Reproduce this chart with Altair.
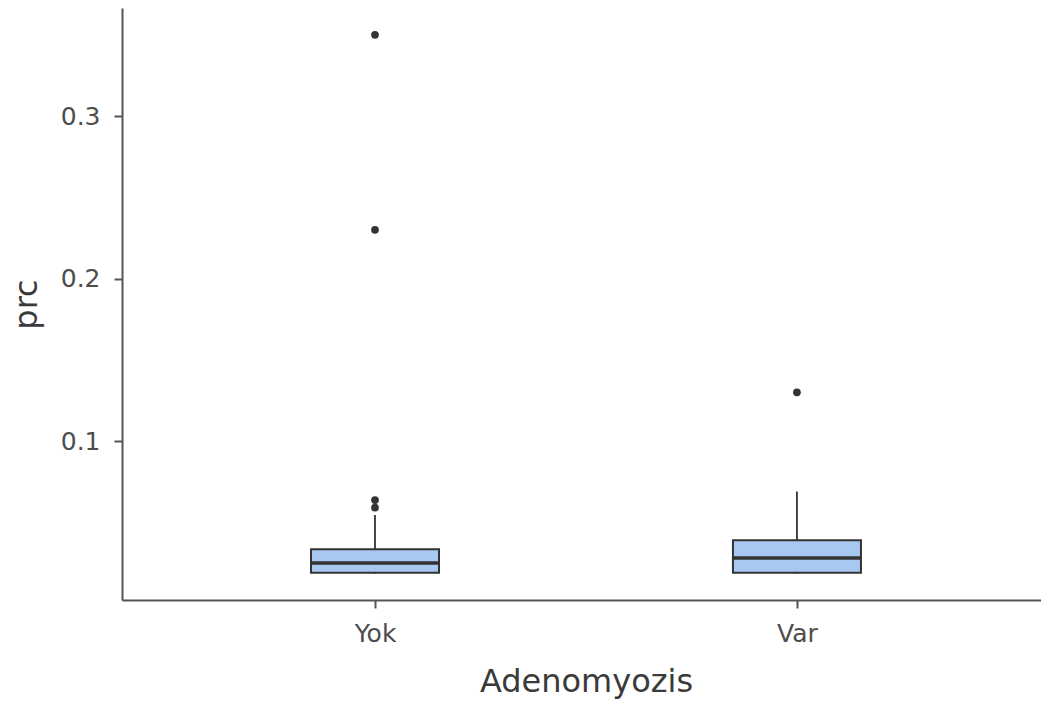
import altair as alt
import pandas as pd

categories = ["Yok", "Var"]
q1 = [0.0190, 0.0190]
median = [0.0250, 0.0280]
q3 = [0.0335, 0.0390]
whisker_low = [0.0185, 0.0185]
whisker_high = [0.0545, 0.0690]

outlier_group = ["Yok", "Yok", "Yok", "Yok", "Var"]
outlier_value = [0.350, 0.230, 0.0637, 0.0590, 0.130]

box_df = pd.DataFrame({
    "Adenomyozis": categories,
    "q1": q1,
    "median": median,
    "q3": q3,
    "lo": whisker_low,
    "hi": whisker_high,
})
out_df = pd.DataFrame({"Adenomyozis": outlier_group, "prc": outlier_value})

FONT = "DejaVu Sans"
xscale = alt.Scale(type="point", padding=0.589, align=0.509)
yscale = alt.Scale(domain=[0.0022, 0.3665], nice=False, zero=False)

x_enc = alt.X(
    "Adenomyozis:N",
    sort=categories,
    scale=xscale,
    axis=alt.Axis(title="Adenomyozis", labelAngle=0, titleX=464),
)
y_axis = alt.Axis(title="prc", values=[0.1, 0.2, 0.3], format=".1f")

base = alt.Chart(box_df)

whisker = base.mark_rule(color="#333333", strokeWidth=1.8).encode(
    x=x_enc,
    y=alt.Y("lo:Q", scale=yscale, axis=y_axis),
    y2="hi:Q",
)
box = base.mark_bar(
    size=128, fill="#a8c8f2", stroke="#333333", strokeWidth=2
).encode(
    x=x_enc,
    y=alt.Y("q1:Q", scale=yscale, axis=y_axis),
    y2="q3:Q",
)
med = base.mark_tick(size=128, thickness=3.5, color="#333333", opacity=1).encode(
    x=x_enc,
    y=alt.Y("median:Q", scale=yscale, axis=y_axis),
)
pts = alt.Chart(out_df).mark_circle(size=60, color="#333333", opacity=1).encode(
    x=x_enc,
    y=alt.Y("prc:Q", scale=yscale, axis=y_axis),
)

chart = (
    alt.layer(whisker, box, med, pts)
    .properties(
        width=919,
        height=592,
        autosize=alt.AutoSizeParams(type="none"),
        padding={"left": 114, "top": 0, "right": 0, "bottom": 100},
    )
    .configure_view(stroke=None)
    .configure_axis(
        grid=False,
        domainColor="#555555",
        domainWidth=2,
        tickColor="#555555",
        tickWidth=2,
        tickSize=8,
        labelFont=FONT,
        titleFont=FONT,
        labelColor="#4d4d4d",
        titleColor="#3a3a3a",
        labelFontSize=25,
        titleFontSize=32,
        titleFontWeight="normal",
    )
    .configure_axisX(labelPadding=13, titlePadding=20)
    .configure_axisY(labelPadding=14, titlePadding=17)
)

chart.save("out.html", embed_options={"renderer": "svg", "actions": False})
